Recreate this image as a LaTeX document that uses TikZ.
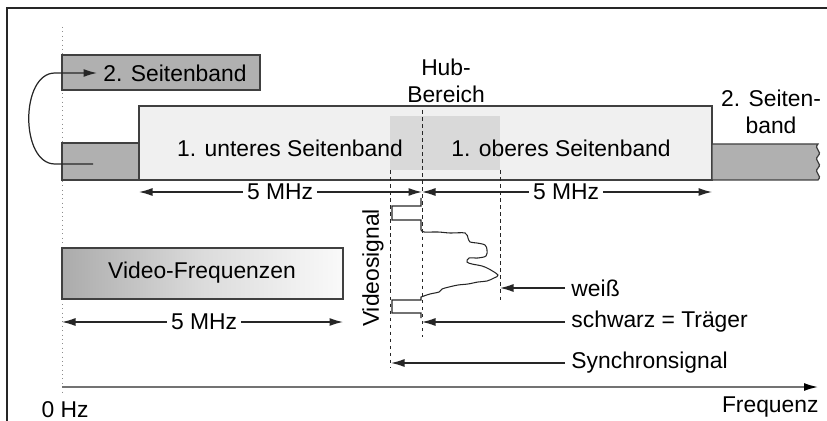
\documentclass[tikz,border=0pt]{standalone}
\usepackage{fontspec}
\setmainfont{Liberation Sans}
\usetikzlibrary{arrows.meta,positioning}

\tikzset{
  band/.style={draw=black!75,fill=black!31},
  mainband/.style={draw=black!75,fill=black!6},
  dimarrow/.style={draw=black!85,-{Latex[length=2.7mm,width=1.6mm]}},
  guide/.style={draw=black!85,line width=.5pt,dash pattern=on 2pt off 2pt},
  dimlabel/.style={inner sep=2pt},
}

\begin{document}
\begin{tikzpicture}[x=0.2mm,y=-0.2mm,line width=.7pt,font=\fontsize{13}{15}\selectfont]
\useasboundingbox (0,0) rectangle (827,421);
% frame and zero line
\draw[black!85,line width=.8pt] (827,8) -- (7,8) -- (7,421);
\draw[black!45,line width=.5pt,dotted] (62,27) -- (62,396);

% bands
\draw[band] (62,55) rectangle (260,90);
\draw[band] (62,143) rectangle (139,180);
\draw[mainband] (139,106) rectangle (712,180);
\fill[black!15] (390,116) rectangle (500,170);
\draw[band] (712,144) -- (818,144) .. controls (813,149) and (823,151) .. (818,156)
  .. controls (813,161) and (823,163) .. (818,168) .. controls (813,173) and (823,175) .. (818,180) -- (712,180) -- cycle;

\node[anchor=west] (sbtop) at (97,73) {2. Seitenband};
\node (lower) at (290,148) {1. unteres Seitenband};
\node (upper) at (561,148) {1. oberes Seitenband};
\node[align=center] (hub) at (446,81) {Hub-\\Bereich};
\node[align=center] (sbright) at (771,112) {2. Seiten-\\band};

% fold-over arrow
\coordinate (foldstart) at (93,164);
\draw[dimarrow] (foldstart) -- (55,164) .. controls (20,164) and (20,73) .. (55,73) -- (sbtop.west);

% guides
\draw[guide] (422,110) -- (422,337);
\draw[guide] (390,170) -- (390,367);
\draw[guide] (500,170) -- (500,300);

% bandwidths
\coordinate (lowl) at (139,192);
\coordinate (carr) at (422,192);
\coordinate (upr) at (712,192);
\node[dimlabel] (bwlow) at (280,192) {5 MHz};
\node[dimlabel] (bwup) at (566,192) {5 MHz};
\draw[dimarrow] (bwlow.west) -- (lowl);
\draw[dimarrow] (bwlow.east) -- (carr);
\draw[dimarrow] (bwup.west) -- (carr);
\draw[dimarrow] (bwup.east) -- (upr);

% video band
\shade[left color=black!33,right color=black!2,middle color=black!14] (62,248) rectangle (343,299);
\draw[black!75] (62,248) rectangle (343,299);
\node (vidfreq) at (202,273) {Video-Frequenzen};
\coordinate (vidl) at (62,322);
\coordinate (vidr) at (343,322);
\node[dimlabel] (bwvid) at (204,322) {5 MHz};
\draw[dimarrow] (bwvid.west) -- (vidl);
\draw[dimarrow] (bwvid.east) -- (vidr);

% video signal
\node[rotate=90] (vsig) at (373,268) {Videosignal};
\draw[black!85,line width=.6pt] (421,198) -- (421,206) -- (392,206) -- (392,220) -- (421,220) -- (421,230)
  plot[smooth,tension=.55] coordinates {(421,230) (424,232) (438,232) (450,233) (465,233) (468,238)
  (470,242) (477,243) (485,245) (487,250) (486,256) (478,258) (469,258) (467,262) (472,264)
  (482,266) (489,269) (498,275) (494,278) (487,281) (478,282) (468,284) (458,285) (449,287)
  (442,289) (439,292) (430,294) (421,297)}
  -- (421,300) -- (392,300) -- (392,313) -- (421,313) -- (421,318);

\node[anchor=west] (white) at (565,288) {weiß};
\node[anchor=west] (black) at (565,322) {schwarz = Träger};
\node[anchor=west] (sync) at (565,363) {Synchronsignal};
\draw[dimarrow] (white.west) -- (500,288);
\draw[dimarrow] (black.west) -- (422,322);
\draw[dimarrow] (sync.west) -- (391,363);

% frequency axis
\coordinate (origin) at (62,387);
\coordinate (fmax) at (818,387);
\draw[black!55,line width=.9pt,-{Latex[length=2.8mm,width=1.6mm,black]}] (origin) -- (fmax);
\node (zero) at (65,410) {0 Hz};
\node[anchor=east] (freq) at (825,407) {Frequenz};
\end{tikzpicture}
\end{document}
